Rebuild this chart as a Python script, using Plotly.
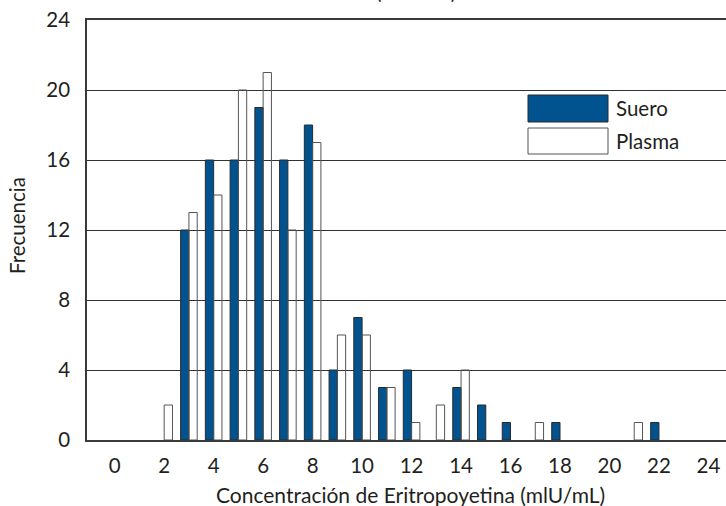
import plotly.graph_objects as go

# Data
concentracion = [2, 3, 4, 5, 6, 7, 8, 9, 10, 11, 12, 13, 14, 15, 16, 17, 18, 19, 20, 21, 22]
suero = [0, 12, 16, 16, 19, 16, 18, 4, 7, 3, 4, 0, 3, 2, 1, 0, 1, 0, 0, 0, 1]
plasma = [2, 13, 14, 20, 21, 12, 17, 6, 6, 3, 1, 2, 4, 0, 0, 1, 0, 0, 0, 1, 0]
x_ticks = list(range(0, 25, 2))
y_ticks = list(range(0, 25, 4))
series_names = ["Suero", "Plasma"]
title_text = "(n = 123)"

BLUE = "#00538F"
FONT = "Lato"
FS = 20.5

fig = go.Figure()
fig.add_trace(go.Bar(x=concentracion, y=suero, name=series_names[0],
                     marker=dict(color=BLUE,
                                 line=dict(color="#2a2a2a", width=[1 if v else 0 for v in suero]))))
fig.add_trace(go.Bar(x=concentracion, y=plasma, name=series_names[1],
                     marker=dict(color="rgba(255,255,255,0)",
                                 line=dict(color="#555555", width=[1 if v else 0 for v in plasma]))))

L, R, T, B = 87, 0, 20, 66
W, H = 726, 506
pw, ph = W - L - R, H - T - B

def px_x(p):
    return (p - L) / pw

def px_y(p):
    return (H - B - p) / ph

fig.update_layout(
    width=W, height=H,
    margin=dict(l=L, r=R, t=T, b=B, pad=0),
    paper_bgcolor="white", plot_bgcolor="white",
    barmode="group", bargap=0.33, bargroupgap=0,
    showlegend=False,
    font=dict(family=FONT, size=FS, color="#231f20"),
)
fig.update_xaxes(range=[-1.12, 24.71], tickvals=x_ticks, ticktext=[str(v) for v in x_ticks],
                 showgrid=False, zeroline=False, showline=True, linecolor="#3a3a3a", linewidth=1.5,
                 mirror=True, ticks="", ticklabelstandoff=7)
fig.update_yaxes(range=[0, 24], tickvals=y_ticks, showgrid=True, gridcolor="#333333", gridwidth=1,
                 zeroline=False, showline=True, linecolor="#3a3a3a", linewidth=1.5,
                 ticks="", ticklabelstandoff=11)

# legend drawn manually (large swatches)
fig.add_shape(type="rect", xref="paper", yref="paper",
              x0=px_x(528), x1=px_x(608), y0=px_y(122), y1=px_y(95),
              fillcolor=BLUE, line=dict(color="#2a2a2a", width=1))
fig.add_shape(type="rect", xref="paper", yref="paper",
              x0=px_x(528), x1=px_x(608), y0=px_y(154), y1=px_y(128),
              fillcolor="white", line=dict(color="#555555", width=1))
fig.add_annotation(xref="paper", yref="paper", x=px_x(614), y=px_y(108), xanchor="left", yanchor="middle",
                   text=series_names[0], showarrow=False, font=dict(size=FS))
fig.add_annotation(xref="paper", yref="paper", x=px_x(614), y=px_y(141), xanchor="left", yanchor="middle",
                   text=series_names[1], showarrow=False, font=dict(size=FS))

# axis titles
fig.add_annotation(xref="paper", yref="paper", x=px_x(410), y=px_y(494), xanchor="center", yanchor="middle",
                   text="Concentración de Eritropoyetina (mlU/mL)", showarrow=False, font=dict(size=21))
fig.add_annotation(xref="paper", yref="paper", x=px_x(17), y=px_y(226), xanchor="center", yanchor="middle",
                   text="Frecuencia", textangle=-90, showarrow=False, font=dict(size=FS))
# partially visible title at the very top (cut off as in the reference)
fig.add_annotation(xref="paper", yref="paper", x=px_x(416), y=px_y(5), xanchor="center", yanchor="bottom",
                   text=title_text, showarrow=False, font=dict(size=FS))

fig.write_html("out.html")
